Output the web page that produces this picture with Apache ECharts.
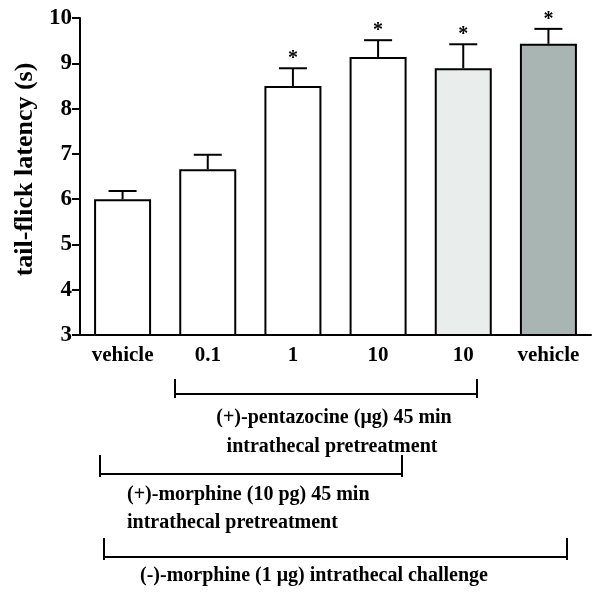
<!DOCTYPE html>
<html>
<head>
<meta charset="utf-8">
<script src="https://cdn.jsdelivr.net/npm/echarts@6/dist/echarts.min.js"></script>
<style>html,body{margin:0;padding:0;background:#fff}#c{width:602px;height:596px}</style>
</head>
<body>
<div id="c"></div>
<script>
var categories = ['vehicle', '0.1', '1', '10', '10', 'vehicle'];
var means = [6.0, 6.66, 8.50, 9.14, 8.89, 9.43];
var sems = [0.18, 0.32, 0.39, 0.37, 0.53, 0.33];
var sig = ['', '', '*', '*', '*', '*'];
var barColors = ['#ffffff', '#ffffff', '#ffffff', '#ffffff', '#e9eeed', '#a8b5b3'];
var yTicks = [3, 4, 5, 6, 7, 8, 9, 10];

var FONT = '"Liberation Serif", "Times New Roman", serif';
var chart = echarts.init(document.getElementById('c'));

var errData = means.map(function (m, i) { return [i, m, m + sems[i]]; });

function bracket(x1, x2, y, tickTop, tickBottom) {
  return [
    { type: 'line', shape: { x1: x1, y1: y, x2: x2, y2: y }, style: { stroke: '#000', lineWidth: 2 } },
    { type: 'line', shape: { x1: x1, y1: tickTop, x2: x1, y2: tickBottom }, style: { stroke: '#000', lineWidth: 2 } },
    { type: 'line', shape: { x1: x2, y1: tickTop, x2: x2, y2: tickBottom }, style: { stroke: '#000', lineWidth: 2 } }
  ];
}
function txt(x, y, s, align) {
  return { type: 'text', x: x, y: y, style: { text: s, font: 'bold 20px ' + FONT, fill: '#000', align: align || 'center', verticalAlign: 'middle' } };
}

var graphics = [].concat(
  bracket(175, 477, 394, 379, 398),
  bracket(100, 402, 474, 455, 477),
  bracket(104, 567, 557, 538, 560),
  [
    txt(334, 418, '(+)-pentazocine (\u03bcg) 45 min'),
    txt(332, 447, 'intrathecal pretreatment'),
    txt(127, 495, '(+)-morphine (10 pg) 45 min', 'left'),
    txt(127, 523, 'intrathecal pretreatment', 'left'),
    txt(314, 576, '(-)-morphine (1 \u03bcg) intrathecal challenge')
  ]
);

chart.setOption({
  animation: false,
  backgroundColor: '#fff',
  grid: { left: 80, right: 11, top: 18, bottom: 261, containLabel: false },
  xAxis: {
    type: 'category',
    data: categories,
    boundaryGap: true,
    axisLine: { lineStyle: { color: '#000', width: 2 } },
    axisTick: { show: false },
    axisLabel: { color: '#000', fontFamily: FONT, fontWeight: 'bold', fontSize: 21, margin: 10 }
  },
  yAxis: {
    type: 'value',
    min: yTicks[0],
    max: yTicks[yTicks.length - 1],
    interval: 1,
    name: 'tail-flick latency (s)',
    nameLocation: 'middle',
    nameRotate: 90,
    nameGap: 37,
    nameTextStyle: { color: '#000', fontFamily: FONT, fontWeight: 'bold', fontSize: 26, padding: [0, 0, 0, 14] },
    splitLine: { show: false },
    axisLine: { show: true, lineStyle: { color: '#000', width: 2 } },
    axisTick: { show: true, length: 8, lineStyle: { color: '#000', width: 2 } },
    axisLabel: { color: '#000', fontFamily: FONT, fontWeight: 'bold', fontSize: 23, margin: 8 }
  },
  series: [
    {
      type: 'bar',
      barWidth: 57,
      data: means.map(function (v, i) {
        return { value: v, itemStyle: { color: barColors[i] } };
      }),
      itemStyle: { borderColor: '#000', borderWidth: 2 },
      z: 2
    },
    {
      type: 'custom',
      data: errData,
      z: 3,
      renderItem: function (params, api) {
        var base = api.coord([api.value(0), api.value(1)]);
        var top = api.coord([api.value(0), api.value(2)]);
        var hw = 14;
        var children = [
          { type: 'line', shape: { x1: base[0], y1: base[1], x2: top[0], y2: top[1] }, style: { stroke: '#000', lineWidth: 2 } },
          { type: 'line', shape: { x1: top[0] - hw, y1: top[1], x2: top[0] + hw, y2: top[1] }, style: { stroke: '#000', lineWidth: 2 } }
        ];
        var s = sig[params.dataIndex];
        if (s) {
          children.push({ type: 'text', x: top[0], y: top[1] + 1, style: { text: s, font: 'bold 20px ' + FONT, fill: '#000', align: 'center', verticalAlign: 'bottom' } });
        }
        return { type: 'group', children: children };
      }
    }
  ],
  graphic: graphics
});
</script>
</body>
</html>
